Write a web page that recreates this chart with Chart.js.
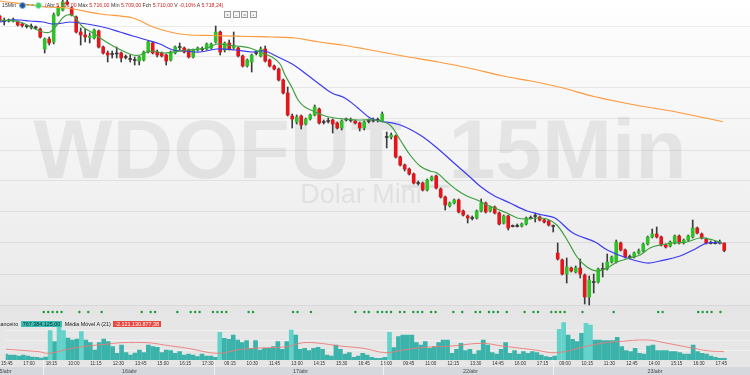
<!DOCTYPE html>
<html>
<head>
<meta charset="utf-8">
<script src="https://cdn.jsdelivr.net/npm/chart.js@4.4.1/dist/chart.umd.min.js"></script>
<style>
  body { margin: 0; width: 750px; height: 375px; overflow: hidden; font-family: "Liberation Sans", Arial, sans-serif; }
  #wrap { position: relative; width: 750px; height: 375px; background: #e6e6e6; overflow: hidden; }
  #pricebg { position: absolute; left: 0; top: 0; width: 750px; height: 306px; background: linear-gradient(#ffffff 0%, #f7f7f7 35%, #e9e9e9 100%); }
  #dotbg { position: absolute; left: 0; top: 306px; width: 750px; height: 12px; background: #e5e5e5; }
  #volbg { position: absolute; left: 0; top: 318px; width: 750px; height: 49px; background: #e6e6e6; }
  canvas { position: absolute; left: 0; }
  #price { top: 0; }
  #dots { top: 306px; }
  #vol { top: 318px; }
  #hdr { position: absolute; left: 2px; top: 2px; font-size: 5.2px; color: #333; white-space: nowrap; line-height: 6px; }
  #hdr .ic { display: inline-block; width: 5px; height: 5px; border-radius: 50%; vertical-align: middle; margin: 0 1px; }
  #hdr .ohlc { color: #cc1f1f; margin-left: 2px; }
  #hdr .ohlc b { color: #333; font-weight: normal; }
  #btns { position: absolute; left: 224px; top: 2px; }
  #btns span { display: inline-block; width: 5px; height: 5px; border: 0.6px solid #9a9a9a; background: #f4f4f4; margin-right: 1.6px; font-size: 4px; line-height: 5px; text-align: center; color: #666; }
  #vleg { position: absolute; left: -7px; top: 321px; font-size: 5.4px; line-height: 6px; color: #222; white-space: nowrap; }
  #vleg .a { background: #3dbdb3; color: #0b2b2b; padding: 0 2px; margin: 0 1px; }
  #vleg .b { background: #e8473f; color: #fff; padding: 0 2px; margin-left: 1px; }
  #band { position: absolute; left: 0; top: 367px; width: 750px; height: 8px; background: #d5d9dd; }
  .day { position: absolute; top: 367px; font-size: 5.3px; line-height: 8px; color: #444; transform: translateX(-50%); }
  .sep { position: absolute; top: 360px; width: 1px; height: 15px; background: #f2f2f2; }
</style>
</head>
<body>
<div id="wrap">
  <div id="pricebg"></div>
  <div id="dotbg"></div>
  <div id="volbg"></div>
  <canvas id="price" width="750" height="318"></canvas>
  <canvas id="dots" width="750" height="12"></canvas>
  <canvas id="vol" width="750" height="49"></canvas>
  <div id="hdr">15Min <span class="ic" style="background:#1f5a96;border:0.8px solid #8fb4dc"></span><span style="color:#4a9a4a">= =</span><span class="ic" style="background:#3ecf6a;border:0.8px solid #a8eabb"></span><span class="ohlc">(<b>Abr</b> 5.716,00 <b>Máx</b> 5.716,00 <b>Mín</b> 5.709,00 <b>Fch</b> 5.710,00 <b>V</b> -0,10% <b>A</b> 5.718,24)</span></div>
  <div id="btns"><span>x</span><span>-</span><span>o</span><span>+</span></div>
  <div id="vleg">Financeiro <span class="a">767.384.125,00</span> Média Móvel A (21) <span class="b">-2.121.130.877,38</span></div>
  <div id="band"></div>
  <div class="sep" style="left:43px"></div>
  <div class="sep" style="left:214px"></div>
  <div class="sep" style="left:383px"></div>
  <div class="sep" style="left:553px"></div>
  <div id="days"></div>
</div>
<script>
// 15 min candles, 15/abr 15:45 -> 23/abr 18:15 (index 0..162)
const open = [
  5894.4, 5897.6, 5893.6, 5893.6, 5893.6, 5892.8, 5891.2, 5889.6, 5889.2, 5888.8,
  5887.2, 5871.2, 5879.2, 5876.8, 5898.4, 5902.4, 5908.8, 5904.0, 5896.8, 5884.8,
  5882.4, 5880.4, 5880.0, 5885.6, 5872.8, 5868.0, 5867.6, 5867.2, 5868.0, 5865.2,
  5863.6, 5862.8, 5861.6, 5862.4, 5868.8, 5876.0, 5868.8, 5868.0, 5866.4, 5862.4,
  5868.0, 5873.2, 5872.0, 5870.4, 5864.8, 5870.4, 5870.8, 5871.2, 5872.0, 5876.8,
  5884.8, 5870.4, 5876.0, 5872.0, 5872.0, 5865.6, 5857.6, 5860.8, 5867.6, 5865.6,
  5871.2, 5862.4, 5857.6, 5855.2, 5846.4, 5836.0, 5817.6, 5812.8, 5817.6, 5811.2,
  5815.2, 5818.4, 5823.2, 5813.2, 5813.2, 5814.4, 5812.0, 5808.0, 5814.4, 5814.8,
  5813.6, 5812.0, 5808.0, 5813.2, 5814.4, 5814.0, 5813.6, 5801.2, 5800.8, 5801.6,
  5784.8, 5778.4, 5775.2, 5771.2, 5764.4, 5764.0, 5758.4, 5766.4, 5769.6, 5759.2,
  5752.8, 5745.6, 5748.0, 5750.4, 5741.6, 5737.6, 5736.4, 5736.0, 5741.6, 5748.0,
  5741.6, 5744.8, 5740.0, 5732.0, 5737.6, 5730.0, 5729.2, 5729.6, 5731.2, 5735.6,
  5738.0, 5736.8, 5734.4, 5733.6, 5730.0, 5708.0, 5702.4, 5691.2, 5696.0, 5692.8,
  5696.0, 5690.4, 5672.8, 5684.4, 5684.8, 5694.8, 5695.2, 5700.8, 5700.8, 5716.0,
  5710.4, 5705.2, 5704.8, 5708.0, 5709.6, 5715.2, 5720.8, 5723.2, 5720.8, 5714.4,
  5713.6, 5716.0, 5721.6, 5716.0, 5718.4, 5720.8, 5728.0, 5723.2, 5719.2, 5716.4,
  5715.6, 5716.0, 5716.0
];
const high = [
  5897.6, 5898.4, 5896.0, 5895.2, 5896.0, 5893.6, 5892.0, 5890.4, 5891.2, 5889.6,
  5888.0, 5880.0, 5880.8, 5900.0, 5905.6, 5910.4, 5910.4, 5904.8, 5897.6, 5888.0,
  5887.2, 5884.0, 5887.2, 5886.4, 5873.6, 5869.6, 5869.6, 5872.8, 5868.8, 5866.4,
  5866.4, 5864.8, 5865.6, 5869.6, 5877.6, 5876.8, 5870.4, 5868.8, 5867.2, 5869.6,
  5873.6, 5876.0, 5872.8, 5871.2, 5871.2, 5872.8, 5872.8, 5876.0, 5876.0, 5889.6,
  5885.6, 5876.8, 5878.4, 5884.8, 5872.8, 5866.4, 5863.2, 5867.2, 5869.6, 5872.8,
  5873.6, 5863.2, 5858.4, 5856.0, 5847.2, 5840.8, 5819.2, 5818.4, 5818.4, 5816.0,
  5819.2, 5826.4, 5824.0, 5814.4, 5816.0, 5815.2, 5812.8, 5814.4, 5816.0, 5816.0,
  5814.4, 5812.8, 5813.6, 5815.2, 5816.0, 5816.0, 5820.8, 5804.8, 5804.0, 5802.4,
  5785.6, 5779.2, 5776.0, 5772.0, 5765.6, 5764.8, 5767.2, 5769.6, 5770.4, 5760.0,
  5753.6, 5748.8, 5751.2, 5751.2, 5742.4, 5738.4, 5737.6, 5742.4, 5751.2, 5748.8,
  5745.6, 5745.6, 5740.8, 5738.4, 5738.4, 5730.4, 5731.2, 5732.0, 5736.8, 5737.6,
  5740.0, 5737.6, 5735.2, 5734.4, 5730.4, 5716.0, 5703.2, 5704.0, 5696.8, 5697.6,
  5703.2, 5691.2, 5689.6, 5691.2, 5696.0, 5700.0, 5707.2, 5705.6, 5718.4, 5716.8,
  5711.2, 5706.4, 5708.8, 5711.2, 5716.0, 5721.6, 5727.2, 5728.8, 5721.6, 5715.2,
  5717.6, 5722.4, 5722.4, 5719.2, 5722.4, 5734.4, 5728.8, 5724.0, 5720.0, 5717.6,
  5717.6, 5718.4, 5716.0
];
const low = [
  5892.8, 5892.8, 5890.4, 5892.8, 5892.8, 5889.6, 5888.8, 5888.0, 5887.2, 5887.2,
  5880.0, 5868.0, 5874.4, 5875.2, 5897.6, 5901.6, 5906.4, 5897.6, 5884.0, 5874.4,
  5876.8, 5876.0, 5879.2, 5872.0, 5867.2, 5860.8, 5864.0, 5864.0, 5860.8, 5863.2,
  5860.8, 5858.4, 5858.4, 5861.6, 5868.0, 5867.2, 5864.8, 5864.8, 5858.4, 5861.6,
  5867.2, 5870.4, 5868.0, 5864.0, 5864.0, 5869.6, 5869.6, 5870.4, 5871.2, 5876.0,
  5866.4, 5868.8, 5870.4, 5871.2, 5864.8, 5856.8, 5856.8, 5852.8, 5866.4, 5864.8,
  5860.8, 5856.8, 5854.4, 5845.6, 5835.2, 5817.6, 5808.0, 5811.2, 5807.2, 5810.4,
  5814.4, 5817.6, 5811.2, 5811.2, 5812.0, 5804.0, 5807.2, 5806.4, 5813.6, 5812.8,
  5811.2, 5805.6, 5806.4, 5812.0, 5812.8, 5812.8, 5812.8, 5792.0, 5799.2, 5784.0,
  5777.6, 5773.6, 5770.4, 5763.2, 5762.4, 5757.6, 5757.6, 5765.6, 5759.2, 5752.0,
  5742.4, 5744.8, 5747.2, 5740.0, 5737.6, 5732.0, 5734.4, 5735.2, 5740.8, 5740.0,
  5740.8, 5739.2, 5730.4, 5731.2, 5726.4, 5728.8, 5728.8, 5728.8, 5730.4, 5735.2,
  5732.8, 5733.6, 5732.0, 5729.6, 5724.8, 5702.4, 5690.4, 5684.0, 5692.8, 5692.0,
  5688.0, 5667.2, 5666.4, 5676.0, 5684.0, 5688.8, 5694.4, 5700.0, 5700.0, 5709.6,
  5704.0, 5703.2, 5704.0, 5707.2, 5708.8, 5714.4, 5720.0, 5720.0, 5713.6, 5712.0,
  5712.8, 5715.2, 5715.2, 5715.2, 5717.6, 5720.0, 5723.2, 5719.2, 5715.2, 5715.2,
  5715.2, 5715.2, 5709.0
];
const close = [
  5896.0, 5893.6, 5893.2, 5894.4, 5894.8, 5890.4, 5890.0, 5889.2, 5888.8, 5888.0,
  5880.8, 5879.2, 5876.0, 5898.4, 5904.0, 5908.8, 5907.2, 5898.4, 5884.8, 5882.4,
  5880.8, 5881.6, 5886.4, 5872.8, 5868.0, 5866.4, 5866.8, 5868.0, 5864.0, 5864.4,
  5862.8, 5862.0, 5864.8, 5868.8, 5876.8, 5868.0, 5866.4, 5865.6, 5861.6, 5868.8,
  5872.8, 5872.4, 5868.8, 5864.8, 5870.4, 5872.0, 5871.6, 5875.2, 5875.2, 5884.8,
  5868.8, 5876.0, 5871.2, 5873.2, 5865.6, 5857.6, 5862.4, 5866.4, 5868.4, 5871.2,
  5861.6, 5857.6, 5855.2, 5846.4, 5836.0, 5818.4, 5815.2, 5816.8, 5810.4, 5815.2,
  5818.4, 5824.8, 5812.0, 5812.4, 5814.0, 5811.2, 5808.0, 5813.6, 5815.2, 5814.0,
  5812.0, 5808.0, 5812.8, 5814.0, 5813.6, 5814.8, 5819.2, 5800.4, 5802.4, 5784.8,
  5778.4, 5775.2, 5771.2, 5764.0, 5763.6, 5758.4, 5766.4, 5768.8, 5760.0, 5752.8,
  5746.4, 5748.0, 5750.4, 5740.8, 5738.4, 5736.0, 5735.6, 5741.6, 5748.0, 5740.8,
  5744.8, 5740.0, 5731.2, 5737.6, 5728.0, 5729.2, 5730.0, 5731.2, 5736.0, 5736.4,
  5737.2, 5734.4, 5732.8, 5730.4, 5729.2, 5703.2, 5691.2, 5696.8, 5693.6, 5696.0,
  5691.2, 5672.8, 5686.4, 5685.2, 5695.2, 5695.6, 5700.8, 5704.8, 5716.8, 5710.4,
  5704.8, 5704.4, 5708.0, 5709.6, 5715.2, 5720.8, 5723.2, 5720.8, 5714.4, 5712.8,
  5716.8, 5721.6, 5716.0, 5718.4, 5721.6, 5728.0, 5724.0, 5720.0, 5716.0, 5715.6,
  5716.4, 5716.8, 5710.0
];
// volume financeiro, R$ milhões
const volume = [
  1443, 1648, 1443, 1443, 1238, 1443, 1238, 1033, 972, 828,
  1033, 6425, 4170, 8208, 6425, 4928, 4518, 4723, 6220, 4518,
  3965, 2468, 3965, 4723, 4170, 3145, 1792, 3493, 1915, 1443,
  1853, 2468, 1915, 3493, 3145, 3022, 1915, 2468, 2325, 1792,
  2120, 1443, 1648, 1443, 1095, 1648, 1238, 1238, 972, 6097,
  4867, 4662, 5543, 4518, 3965, 4375, 2817, 4375, 2468, 2817,
  2817, 3145, 4170, 2612, 4170, 6568, 5543, 2612, 2817, 2325,
  2817, 3022, 2612, 1443, 1238, 3493, 2612, 1648, 1915, 972,
  1238, 1792, 1443, 972, 767, 767, 972, 6097, 2940, 5195,
  5543, 5543, 5543, 3965, 3493, 4170, 2817, 3145, 3965, 4518,
  4518, 1792, 2612, 3842, 2325, 2612, 1648, 2325, 4518, 3493,
  1915, 1648, 2612, 3965, 1792, 2325, 1648, 2120, 1792, 2120,
  1915, 1443, 1095, 972, 1238, 6712, 8065, 5543, 4662, 4170,
  5892, 7942, 7593, 4518, 4518, 4375, 4375, 4375, 5072, 3145,
  2325, 2120, 2817, 1792, 1648, 3288, 3493, 2325, 2325, 2325,
  2120, 2120, 1915, 1648, 1648, 3493, 2120, 1792, 1648, 1238,
  972, 767, 767
];
// moving averages read at sample points (x = candle index)
const fastX = [1.1,5.5,8.4,10.6,12.2,13.7,15.5,17.1,18.2,19.5,21.7,24,26.2,28.4,30.6,32.2,33.7,35.1,37.3,39.5,42.6,45.5,47.7,49.3,51.5,53.7,56.6,59.3,61.5,63.3,64.4,66,67.3,68.8,71.1,73.3,75.5,77.7,80.6,84.4,87.7,90,92.2,94.4,96.6,98.2,100.4,102.6,104.8,107.1,109.3,111.5,113.7,116,118.2,120.4,122.6,124.8,127.1,129.3,131.5,133.7,136,138.2,141.1,143.3,145.5,147.7,150.6,153.7,156.6,159.5,161.5];
const fastY = [5894.4,5892.8,5888.0,5884.8,5884.8,5890.4,5897.6,5898.4,5894.4,5888.8,5884.0,5878.4,5873.6,5869.6,5866.4,5866.4,5868.8,5869.6,5868.0,5868.8,5870.4,5871.2,5872.8,5875.2,5874.4,5873.6,5872.0,5868.0,5864.8,5859.2,5850.4,5840.0,5830.4,5824.8,5820.8,5817.6,5816.0,5815.2,5814.4,5814.4,5810.4,5798.4,5786.4,5777.6,5773.6,5772.0,5764.8,5758.4,5753.6,5750.4,5746.4,5743.2,5740.0,5736.0,5735.2,5736.0,5735.2,5730.4,5718.4,5704.8,5696.8,5693.6,5696.0,5700.8,5704.0,5706.4,5712.0,5714.4,5716.0,5716.8,5720.0,5718.4,5716.0];
const slowX = [1.1,3.3,5.5,7.7,10.6,12.8,15.1,16.6,18.8,21.7,24.8,27.7,30.6,33.7,36.6,39.5,42.2,45.5,49.3,53.3,57.1,59.9,62.8,66,68.8,71.7,74.8,77.7,80.6,83.3,85.5,90,94.4,98.2,101.7,105.5,107.7,110.6,114.4,118.2,121.7,124.4,128.4,133.3,136,140.4,144.8,147.7,152.2,155.1,158.2,161.5];
const slowY = [5892.8,5894.4,5894.4,5893.6,5892.8,5891.2,5892.0,5892.8,5892.0,5890.4,5888.0,5884.8,5881.6,5878.4,5875.2,5870.4,5869.6,5868.8,5871.2,5870.4,5868.8,5869.6,5864.8,5859.2,5852.0,5844.0,5836.0,5832.0,5824.0,5816.0,5813.6,5810.4,5802.4,5792.0,5780.8,5768.8,5761.6,5754.4,5748.0,5741.6,5738.4,5736.0,5724.0,5716.8,5710.4,5704.0,5700.0,5701.6,5705.6,5710.4,5716.0,5716.0];
const longX = [1.1,11.5,15.9,23.3,30.6,35.1,41.1,48.4,56.6,61.5,66.6,71.7,77.1,82.2,90.6,98.2,105.5,112.8,118.8,125.5,133.3,142.2,151.1,161.7];
const longY = [5909.6,5904.8,5904.0,5899.2,5896.0,5888.8,5883.2,5882.0,5881.2,5880.8,5880.0,5877.0,5874.4,5871.2,5865.6,5861.0,5855.8,5849.6,5845.8,5840.6,5833.0,5826.4,5821.0,5813.0];
const volMaX = [1.1,8.5,10.7,15.9,19.6,23.3,27,32.9,36.6,41.8,48.5,52.9,56.6,64,67.7,71.4,75.9,81.1,86.2,90,95.1,101.1,107.7,112.2,119.6,124.4,130.7,134.4,138.1,144.8,149.2,155.1,158.1,161.9];
const volMa = [2612,2120,1792,2817,3288,3637,3965,3965,3493,2817,1792,2468,2817,3145,3965,3842,3288,2817,1915,2468,3022,3288,3842,3288,2468,1915,3145,3842,4170,4518,3842,2817,2325,2120];
// candles that carry a signal dot
const dotIdx = [10,11,12,13,14,18,20,23,32,34,35,40,43,44,45,48,49,50,51,56,57,66,67,70,80,82,83,85,86,87,88,90,91,93,94,95,97,98,102,104,107,108,110,111,112,114,118,120,121,124,125,126,127,131,138,148,149,157,158,159,160,162];
const gridPrices = [5666.4, 5691.2, 5716.0, 5740.8, 5765.6, 5790.4, 5815.2, 5840.0, 5864.8, 5888.8];
const timeLabels = ['15:45','17:00','18:15','10:00','11:15','12:30','13:45','15:00','16:15','17:30','09:15','10:30','11:45','13:00','14:15','15:30','16:45','18:00','09:45','11:00','12:15','13:30','14:45','16:00','17:15','09:00','10:15','11:30','12:45','14:00','15:15','16:30','17:45'];
const dayLabels = ['15/abr','16/abr','17/abr','22/abr','23/abr'];
const dayLabelX = [4, 129.5, 300.5, 470.5, 655];

const xMin = 1.067, xMax = 167.73;

dayLabels.forEach((d, k) => {
  const el = document.createElement('div');
  el.className = 'day';
  el.style.left = dayLabelX[k] + 'px';
  el.textContent = d;
  document.getElementById('days').appendChild(el);
});

const watermark = {
  id: 'watermark',
  beforeDatasetsDraw(chart) {
    const c = chart.ctx;
    c.save();
    c.fillStyle = 'rgba(0,0,0,0.065)';
    c.font = 'bold 84px "Liberation Sans", Arial';
    c.textAlign = 'center';
    c.fillText('WDOFUT_15Min', 360, 178);
    c.font = '27px "Liberation Sans", Arial';
    c.fillText('Dolar Mini', 361, 203);
    c.restore();
  }
};

const wicks = close.map((c, i) => ({ x: i, y: [low[i], high[i]] }));
const bodies = close.map((c, i) => ({ x: i, y: [open[i], c] }));
const bodyColors = close.map((c, i) => Math.abs(c - open[i]) < 0.9 ? '#3a3a3a' : (c > open[i] ? '#30c02a' : '#e3161b'));
const line = (xs, ys) => xs.map((x, k) => ({ x, y: ys[k] }));

new Chart(document.getElementById('price'), {
  type: 'bar',
  data: {
    datasets: [
      { type: 'line', data: line(fastX, fastY), borderColor: '#3f9f3f', borderWidth: 1.2, pointRadius: 0, tension: 0.35, order: 1 },
      { type: 'line', data: line(slowX, slowY), borderColor: '#3a3af0', borderWidth: 1.2, pointRadius: 0, tension: 0.35, order: 1 },
      { type: 'line', data: line(longX, longY), borderColor: '#ff9a3c', borderWidth: 1.2, pointRadius: 0, tension: 0.35, order: 1 },
      { data: bodies, backgroundColor: bodyColors, barThickness: 3, minBarLength: 1, grouped: false, order: 2 },
      { data: wicks, backgroundColor: '#3c3c3c', barThickness: 1, grouped: false, order: 3 }
    ]
  },
  options: {
    responsive: false, animation: false, events: [],
    layout: { padding: 0 },
    plugins: { legend: { display: false }, tooltip: { enabled: false } },
    scales: {
      x: { type: 'linear', min: xMin, max: xMax, offset: false, display: false },
      y: {
        min: 5656.0, max: 5910.4, position: 'right',
        ticks: { display: false },
        grid: { color: 'rgba(0,0,0,0.07)', drawTicks: false },
        border: { display: false },
        afterBuildTicks: s => { s.ticks = gridPrices.map(v => ({ value: v })); },
        afterFit: s => { s.width = 0; }
      }
    }
  },
  plugins: [watermark]
});

new Chart(document.getElementById('dots'), {
  type: 'scatter',
  data: { datasets: [{ data: dotIdx.map(i => ({ x: i, y: 0 })), backgroundColor: '#1c9a3a', pointRadius: 1.2, borderWidth: 0 }] },
  options: {
    responsive: false, animation: false, events: [],
    layout: { padding: 0 },
    plugins: { legend: { display: false }, tooltip: { enabled: false } },
    scales: { x: { type: 'linear', min: xMin, max: xMax, offset: false, display: false }, y: { min: -1, max: 1, display: false } }
  }
});

new Chart(document.getElementById('vol'), {
  type: 'bar',
  data: {
    datasets: [
      { type: 'line', data: line(volMaX, volMa), borderColor: '#ec7a76', borderWidth: 0.9, pointRadius: 0, tension: 0.4, order: 1 },
      { data: volume.map((v, i) => ({ x: i, y: v })), backgroundColor: volume.map(v => v > 6000 ? '#62d2ca' : '#3bb3ab'), barThickness: 4, grouped: false, order: 2 }
    ]
  },
  options: {
    responsive: false, animation: false, events: [],
    layout: { padding: 0 },
    plugins: { legend: { display: false }, tooltip: { enabled: false } },
    scales: {
      x: {
        type: 'linear', min: xMin, max: xMax, offset: false, position: 'bottom',
        grid: { display: false, drawTicks: false }, border: { display: false },
        ticks: {
          align: 'start', padding: 1, maxRotation: 0, autoSkip: false, color: '#333',
          font: { size: 4.6, family: '"Liberation Sans", Arial' },
          callback: v => timeLabels[v / 5]
        },
        afterBuildTicks: s => { s.ticks = timeLabels.map((t, k) => ({ value: k * 5 })); },
        afterFit: s => { s.height = 7; }
      },
      y: {
        min: 418, max: 9028, position: 'right',
        ticks: { display: false },
        grid: { color: 'rgba(255,255,255,0.45)', drawTicks: false },
        border: { display: false },
        afterBuildTicks: s => { s.ticks = [2468, 4518, 6568].map(v => ({ value: v })); },
        afterFit: s => { s.width = 0; }
      }
    }
  }
});
</script>
</body>
</html>
